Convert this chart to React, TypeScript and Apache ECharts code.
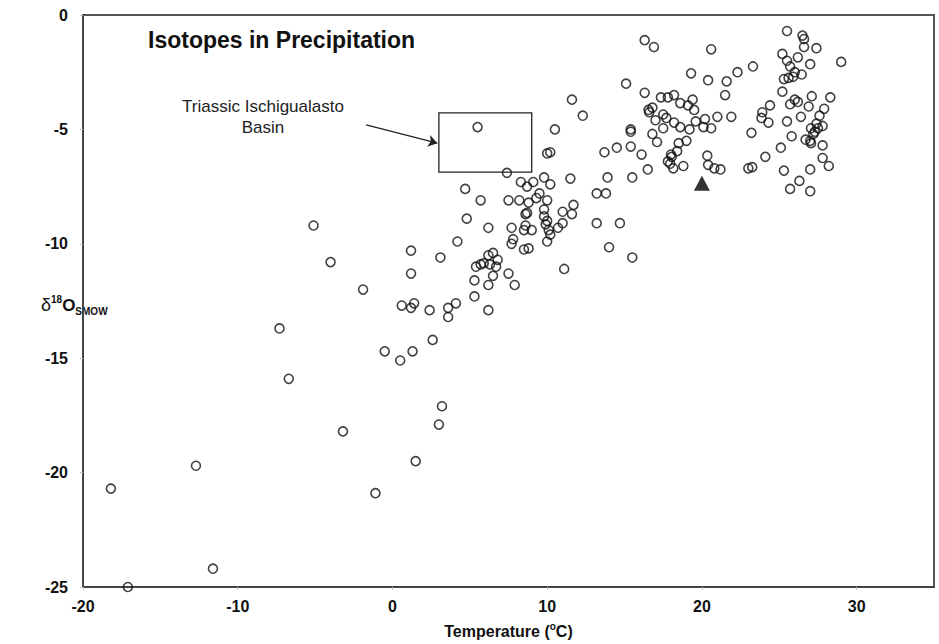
import React, { useEffect, useRef } from "react";
import * as echarts from "echarts";

// Tick values
const xTicks = [-20, -10, 0, 10, 20, 30];
const yTicks = [0, -5, -10, -15, -20, -25];

// Station data [temperature °C, δ18O SMOW]
const coldStations: [number, number][] = [
  [-18.2, -20.7], [-17.1, -25.0], [-12.7, -19.7], [-11.6, -24.2],
  [-7.3, -13.7], [-6.7, -15.9], [-5.1, -9.2], [-4.0, -10.8], [-3.2, -18.2],
  [-1.9, -12.0], [-1.1, -20.9], [-0.5, -14.7], [0.5, -15.1], [1.3, -14.7],
  [0.6, -12.7], [1.2, -12.8], [1.4, -12.6], [2.4, -12.9], [3.6, -12.8],
  [4.1, -12.6], [3.6, -13.2], [2.6, -14.2], [1.2, -10.3], [1.2, -11.3],
  [3.1, -10.6], [3.2, -17.1], [3.0, -17.9], [1.5, -19.5],
];

const temperateStations: [number, number][] = [
  [4.7, -7.6], [5.7, -8.1], [7.5, -8.1], [8.2, -8.1], [8.8, -8.2], [9.3, -8.0],
  [9.5, -7.8], [10.0, -8.1], [8.6, -8.7], [8.7, -8.65], [9.8, -8.5], [9.8, -8.8],
  [11.0, -8.6], [11.7, -8.3], [11.6, -8.7], [4.8, -8.9], [6.2, -9.3], [7.7, -9.3],
  [8.5, -9.4], [8.6, -9.2], [9.0, -9.4], [9.9, -9.15], [10.0, -9.0], [10.1, -9.4],
  [10.2, -9.6], [10.7, -9.3], [11.0, -9.1], [13.2, -9.1], [14.7, -9.1],
  [4.2, -9.9], [7.8, -9.8], [7.7, -10.0], [8.5, -10.25], [8.8, -10.2], [10.0, -9.9],
  [14.0, -10.15], [15.5, -10.6], [6.5, -10.4], [6.2, -10.5], [6.8, -10.7],
  [6.3, -10.9], [6.7, -11.0], [5.4, -11.0], [5.7, -10.9], [5.9, -10.85],
  [5.3, -11.6], [6.5, -11.4], [6.2, -11.8], [7.5, -11.3], [7.9, -11.8],
  [11.1, -11.1], [5.3, -12.3], [6.2, -12.9],
  [11.6, -3.7], [12.3, -4.4], [5.5, -4.9], [10.5, -5.0], [10.0, -6.05], [10.2, -6.0],
  [13.7, -6.0], [14.5, -5.8], [7.4, -6.9], [8.3, -7.3], [9.1, -7.3], [8.7, -7.5],
  [9.8, -7.1], [10.2, -7.4], [11.5, -7.15], [13.9, -7.1], [13.2, -7.8], [13.8, -7.8],
];

const warmStations: [number, number][] = [
  [16.3, -1.1], [16.9, -1.4], [20.6, -1.5], [15.1, -3.0], [19.3, -2.55],
  [20.4, -2.85], [21.6, -2.9], [22.3, -2.5], [23.3, -2.25], [21.5, -3.5],
  [16.3, -3.4], [17.35, -3.6], [17.8, -3.6], [18.2, -3.5], [18.6, -3.85],
  [19.1, -3.95], [19.4, -3.7], [19.5, -4.15], [16.8, -4.05], [16.55, -4.15],
  [16.6, -4.25], [17.5, -4.35], [17.7, -4.5], [17.0, -4.6], [18.2, -4.7],
  [18.6, -4.9], [19.2, -5.0], [19.6, -4.65], [20.2, -4.55], [20.1, -4.9],
  [20.6, -4.95], [21.0, -4.45], [21.9, -4.45], [17.5, -4.95], [16.8, -5.2],
  [17.1, -5.55], [15.4, -5.0], [15.4, -5.1], [19.0, -5.5], [18.5, -5.6],
  [18.4, -5.95], [15.4, -5.75], [16.1, -6.1], [18.0, -6.1], [18.05, -6.2],
  [17.8, -6.4], [17.95, -6.5], [18.15, -6.7], [18.8, -6.6], [20.35, -6.15],
  [20.4, -6.55], [20.8, -6.7], [21.2, -6.75], [16.5, -6.75], [23.0, -6.7],
  [23.25, -6.65], [24.1, -6.2], [23.2, -5.15], [24.4, -3.95], [23.9, -4.25],
  [23.85, -4.5], [24.3, -4.7], [15.5, -7.1],
];

const tropicalStations: [number, number][] = [
  [25.5, -0.7], [26.5, -0.9], [26.6, -1.05], [26.6, -1.4], [27.4, -1.45],
  [29.0, -2.05], [25.2, -1.7], [26.2, -1.85], [27.0, -2.15], [25.5, -2.0],
  [25.7, -2.25], [26.0, -2.5], [26.45, -2.6], [25.9, -2.7], [25.6, -2.75],
  [25.3, -2.8], [25.2, -3.35], [27.1, -3.55], [28.3, -3.6], [26.0, -3.7],
  [26.2, -3.8], [25.7, -3.9], [26.9, -4.0], [27.9, -4.1], [27.6, -4.4],
  [26.4, -4.45], [25.5, -4.65], [27.05, -4.95], [27.4, -4.75], [27.8, -4.85],
  [27.3, -5.1], [27.5, -4.95], [27.2, -5.2], [27.0, -5.5], [26.7, -5.45],
  [27.05, -5.6], [25.8, -5.3], [27.8, -5.7], [25.1, -5.8], [27.8, -6.25],
  [28.2, -6.6], [27.0, -6.75], [25.3, -6.8], [26.3, -7.25], [25.7, -7.6],
  [27.0, -7.7],
];

// Triassic Ischigualasto Basin estimate
const studySite: [number, number][] = [[20.0, -7.35]];
const basinBoxX = [3.0, 9.0];
const basinBoxY = [-4.28, -6.87];
const arrowFrom = [-1.7, -4.8];
const arrowTo = [2.9, -5.6];

const FONT = "'Liberation Sans', Arial, Helvetica, sans-serif";

export default function App() {
  const ref = useRef<HTMLDivElement | null>(null);

  useEffect(() => {
    if (!ref.current) return;
    const chart = echarts.init(ref.current, null, { renderer: "svg" });
    const stations = [
      ...coldStations,
      ...temperateStations,
      ...warmStations,
      ...tropicalStations,
    ];

    const option: any = {
      animation: false,
      backgroundColor: "#ffffff",
      grid: {
        left: 83,
        right: 5,
        top: 15,
        bottom: 46,
        show: true,
        borderColor: "#555",
        borderWidth: 2,
        backgroundColor: "transparent",
      },
      xAxis: {
        type: "value",
        min: xTicks[0],
        max: 35,
        interval: 10,
        axisLine: { show: true, onZero: false, lineStyle: { color: "#444", width: 2 } },
        axisTick: { show: true, length: 3, lineStyle: { color: "#bbb" } },
        splitLine: { show: false },
        axisLabel: {
          showMaxLabel: false,
          fontFamily: FONT,
          fontWeight: "bold",
          fontSize: 16,
          color: "#111",
          margin: 11,
        },
        name: "{a|Temperature (}{s|o}{a|C)}",
        nameLocation: "middle",
        nameGap: 34,
        nameTextStyle: {
          rich: {
            a: { fontFamily: FONT, fontWeight: "bold", fontSize: 16, color: "#111", lineHeight: 20 },
            s: { fontFamily: FONT, fontWeight: "bold", fontSize: 10, color: "#111", lineHeight: 10, verticalAlign: "top" },
          },
        },
      },
      yAxis: {
        type: "value",
        min: yTicks[yTicks.length - 1],
        max: yTicks[0],
        interval: 5,
        axisLine: { show: true, onZero: false, lineStyle: { color: "#444", width: 2 } },
        axisTick: { show: true, length: 3, lineStyle: { color: "#bbb" } },
        splitLine: { show: false },
        axisLabel: {
          fontFamily: FONT,
          fontWeight: "bold",
          fontSize: 16,
          color: "#111",
          margin: 15,
        },
      },
      graphic: [
        {
          type: "text",
          left: 148,
          top: 28,
          style: {
            text: "Isotopes in Precipitation",
            font: `bold 23px ${FONT}`,
            fill: "#111",
          },
        },
        {
          type: "text",
          x: 263,
          y: 96,
          style: {
            text: "Triassic Ischigualasto\nBasin",
            font: `17px ${FONT}`,
            fill: "#222",
            align: "center",
            verticalAlign: "top",
            lineHeight: 21,
          },
        },
        {
          type: "text",
          x: 41,
          y: 305,
          style: {
            text: "{d|δ}{sup|18}{o|O}{sub|SMOW}",
            verticalAlign: "middle",
            rich: {
              d: { fontFamily: FONT, fontSize: 18, fill: "#111", lineHeight: 22, verticalAlign: "middle" },
              sup: { fontFamily: FONT, fontSize: 10, fontWeight: "bold", fill: "#111", lineHeight: 11, verticalAlign: "top" },
              o: { fontFamily: FONT, fontSize: 17, fontWeight: "bold", fill: "#111", lineHeight: 22, verticalAlign: "middle" },
              sub: { fontFamily: FONT, fontSize: 10, fontWeight: "bold", fill: "#111", lineHeight: 11, verticalAlign: "bottom" },
            },
          },
        },
      ],
      series: [
        {
          type: "scatter",
          name: "Stations",
          data: stations,
          symbol: "circle",
          symbolSize: 9,
          itemStyle: { color: "rgba(0,0,0,0)", borderColor: "#111", borderWidth: 1.6 },
          markArea: {
            silent: true,
            itemStyle: { color: "rgba(0,0,0,0)", borderColor: "#222", borderWidth: 1.3 },
            label: { show: false },
            data: [[{ coord: [basinBoxX[0], basinBoxY[0]] }, { coord: [basinBoxX[1], basinBoxY[1]] }]],
          },
          markLine: {
            silent: true,
            symbol: ["none", "arrow"],
            symbolSize: 9,
            lineStyle: { color: "#222", width: 1.2, type: "solid" },
            label: { show: false },
            data: [[{ coord: arrowFrom }, { coord: arrowTo }]],
          },
        },
        {
          type: "scatter",
          name: "Ischigualasto",
          data: studySite,
          symbol: "triangle",
          symbolSize: [16, 15],
          itemStyle: { color: "#000" },
        },
      ],
    };

    chart.setOption(option);
    return () => chart.dispose();
  }, []);

  return (
    <div
      ref={ref}
      style={{ position: "fixed", left: 0, top: 0, width: 939, height: 644, background: "#fff" }}
    />
  );
}
